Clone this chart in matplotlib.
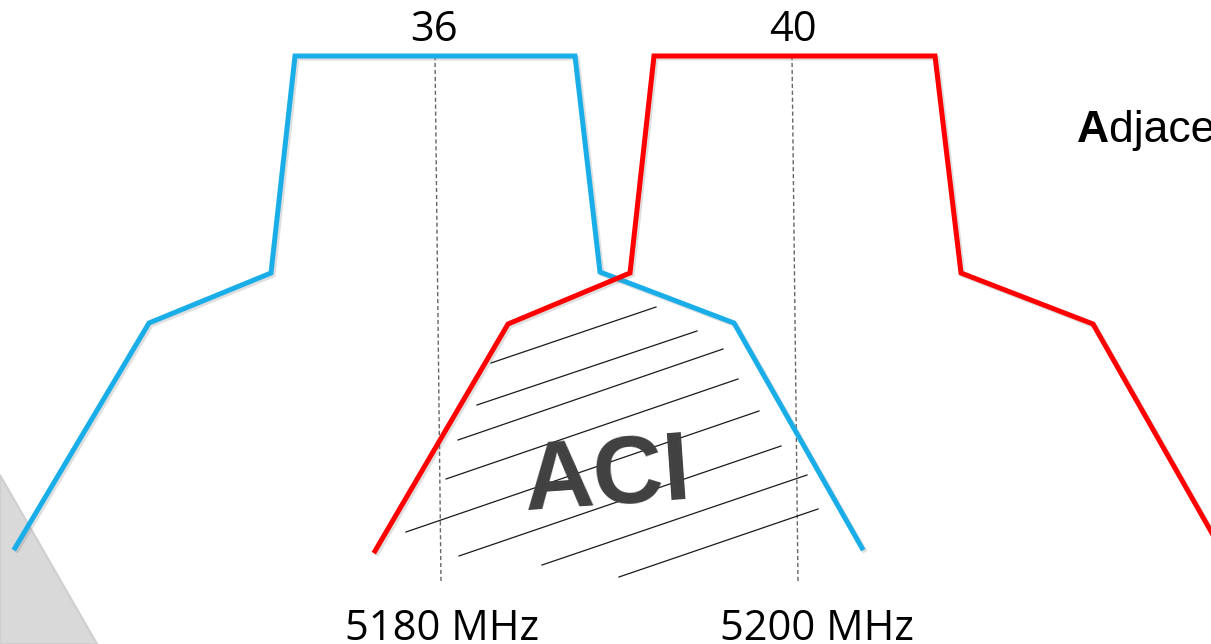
import matplotlib.pyplot as plt
import matplotlib.patheffects as pe
from matplotlib.patches import Polygon

# spectral masks (pixel space of the diagram)
blue_x = [15, 149, 271, 295, 575, 600, 734, 862]
blue_y = [548, 323, 273, 56, 56, 272, 323, 548]
red_x = [375, 508, 630, 654, 935, 961, 1093, 1221]
red_y = [551, 324, 273, 56, 56, 273, 324, 549]

# centre-frequency markers
marker_x = [(435, 441), (792, 798)]
marker_y = (56, 582)
channels = ["36", "40"]
channel_x = [434, 793]
freqs = ["5180 MHz", "5200 MHz"]
freq_x = [442, 817]

# hatching inside the overlap region
hatch = [
    ((491, 363), (656, 307)),
    ((477, 405), (697, 331)),
    ((458, 440), (723, 349)),
    ((446, 479), (738, 379)),
    ((406, 532), (759, 411)),
    ((459, 556), (781, 446)),
    ((542, 565), (807, 475)),
    ((619, 577), (818, 509)),
]

fig = plt.figure(figsize=(12.11, 6.44), dpi=100)
ax = fig.add_axes([0, 0, 1, 1])
ax.set_xlim(0, 1211)
ax.set_ylim(644, 0)
ax.axis('off')

# grey corner decoration
ax.add_patch(Polygon([(0, 475), (97, 644), (0, 644)], closed=True,
                     facecolor='#d9d9d9', edgecolor='#cfcfcf', lw=1.5, zorder=0))

shadow = [pe.SimpleLineShadow(offset=(1.5, -1.5), alpha=0.25, shadow_color='#808080'), pe.Normal()]

for (x0, x1) in marker_x:
    ax.plot([x0, x1], marker_y, color='#666666', lw=1.0, ls=(0, (3, 2)), zorder=1)

for (p0, p1) in hatch:
    ax.plot([p0[0], p1[0]], [p0[1], p1[1]], color='#1a1a1a', lw=0.9, zorder=2)

ax.plot(blue_x, blue_y, color='#1aaee8', lw=3.6, solid_joinstyle='miter',
        path_effects=shadow, zorder=3)
ax.plot(red_x, red_y, color='#ff0000', lw=3.6, solid_joinstyle='miter',
        path_effects=shadow, zorder=4)

for lab, x in zip(channels, channel_x):
    ax.text(x, 41, lab, fontsize=30, family='Open Sans', ha='center', va='baseline')
for lab, x in zip(freqs, freq_x):
    ax.text(x, 640, lab, fontsize=30, family='Open Sans', ha='center', va='baseline')

ax.text(607, 479, "ACI", fontsize=70, fontweight='bold', family='Liberation Sans',
        color='#404040', rotation=4, ha='center', va='center', zorder=5)

tA = ax.text(1077, 142, "A", fontsize=32, fontweight='bold', family='Liberation Sans',
             ha='left', va='baseline')
ax.annotate("djacent Channel Interference", xy=(1, 0), xycoords=tA,
            fontsize=32, family='Liberation Sans', ha='left', va='bottom',
            annotation_clip=False)

fig.savefig('out.png', dpi=100)
